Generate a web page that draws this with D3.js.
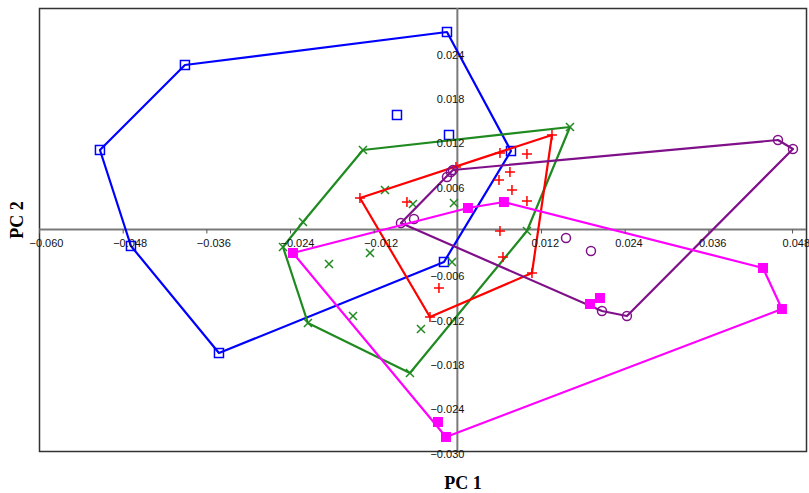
<!DOCTYPE html>
<html>
<head>
<meta charset="utf-8">
<script src="https://cdn.jsdelivr.net/npm/d3@7/dist/d3.min.js"></script>
<style>
  html, body { margin: 0; padding: 0; background: #fff; }
  svg { display: block; }
  .tick text { font-family: "Liberation Sans", Arial, sans-serif; font-size: 11px; fill: #111; }
</style>
</head>
<body>
<svg id="chart" width="809" height="493"></svg>
<script>
// PCA scores (PC 1, PC 2) for each group
const blueScores = [
  [-0.00149, 0.02675], [-0.03907, 0.02228], [-0.05126, 0.01077], [-0.04681, -0.00223],
  [-0.03419, -0.01673], [-0.00192, -0.00440], [0.00769, 0.01063], [-0.00866, 0.01551],
  [-0.00120, 0.01280]
];
const greenScores = [
  [0.01615, 0.01388], [-0.01354, 0.01077], [-0.02214, 0.00102], [-0.02501, -0.00237],
  [-0.02143, -0.01266], [-0.00680, -0.01944], [0.00998, -0.00020], [-0.01038, 0.00535],
  [-0.00637, 0.00345], [-0.00049, 0.00359], [-0.01253, -0.00318], [-0.01841, -0.00467],
  [-0.01497, -0.01172], [-0.00522, -0.01348], [-0.00077, -0.00440]
];
const redScores = [
  [-0.01397, 0.00427], [-0.00020, 0.00847], [0.01357, 0.01280], [0.01070, -0.00589],
  [-0.00393, -0.01185], [0.00611, 0.01036], [0.00998, 0.01023], [0.00754, 0.00779],
  [0.00597, 0.00670], [0.00783, 0.00535], [0.00998, 0.00386], [-0.00723, 0.00372],
  [0.00611, -0.00020], [0.00654, -0.00372], [-0.00264, -0.00792]
];
const purpleScores = [
  [-0.00063, 0.00806], [0.04598, 0.01212], [0.04813, 0.01090], [0.02432, -0.01172],
  [0.02074, -0.01104], [-0.00809, 0.00088], [-0.00149, 0.00711], [-0.00622, 0.00142],
  [0.01558, -0.00115], [0.01916, -0.00291], [-0.00092, 0.00779]
];
const magentaScores = [
  [-0.02358, -0.00318], [0.00152, 0.00291], [0.00668, 0.00372], [0.04383, -0.00521],
  [0.04655, -0.01077], [-0.00163, -0.02810], [-0.00278, -0.02607], [0.01902, -0.01009],
  [0.02045, -0.00928]
];

const xTickValues = [-0.060, -0.048, -0.036, -0.024, -0.012, 0.012, 0.024, 0.036, 0.048];
const yTickValues = [-0.030, -0.024, -0.018, -0.012, -0.006, 0.006, 0.012, 0.018, 0.024];

const svg = d3.select("#chart");
const plot = { left: 39, right: 806, top: 8, bottom: 451 };

const x = d3.scaleLinear().domain([-0.060, 0.050]).range([plot.left, plot.right]);
const y = d3.scaleLinear().domain([-0.030, 0.030]).range([plot.bottom, plot.top]);
const fmt = d3.format(".3f");

// frame
svg.append("rect")
  .attr("x", plot.left + 0.5).attr("y", plot.top + 0.5)
  .attr("width", plot.right - plot.left).attr("height", plot.bottom - plot.top)
  .attr("fill", "none").attr("stroke", "#333").attr("stroke-width", 1.5);

// axes crossing at the origin
const axisLayer = svg.append("g");
axisLayer.append("line")
  .attr("x1", plot.left).attr("x2", plot.right)
  .attr("y1", y(0)).attr("y2", y(0))
  .attr("stroke", "#7a7a7a").attr("stroke-width", 2);
axisLayer.append("line")
  .attr("x1", x(0)).attr("x2", x(0))
  .attr("y1", plot.top).attr("y2", plot.bottom)
  .attr("stroke", "#7a7a7a").attr("stroke-width", 2);

const groups = [
  { data: blueScores,    color: "#0000ff", marker: "openSquare" },
  { data: greenScores,   color: "#1f8a1f", marker: "cross" },
  { data: redScores,     color: "#ff0000", marker: "plus" },
  { data: purpleScores,  color: "#80108a", marker: "circle" },
  { data: magentaScores, color: "#ff00ff", marker: "filledSquare" }
];

const dataLayer = svg.append("g");
groups.forEach(g => {
  const pts = g.data.map(d => [x(d[0]), y(d[1])]);
  const hull = d3.polygonHull(pts);
  dataLayer.append("path")
    .attr("d", d3.line()(hull) + "Z")
    .attr("fill", "none")
    .attr("stroke", g.color)
    .attr("stroke-width", 2.2)
    .attr("stroke-linejoin", "round");

  const mg = dataLayer.append("g");
  g.data.forEach(d => {
    const cx = x(d[0]), cy = y(d[1]);
    if (g.marker === "openSquare") {
      mg.append("rect").attr("x", cx - 4.5).attr("y", cy - 4.5)
        .attr("width", 9).attr("height", 9)
        .attr("fill", "none").attr("stroke", g.color).attr("stroke-width", 1.5);
    } else if (g.marker === "filledSquare") {
      mg.append("rect").attr("x", cx - 5).attr("y", cy - 5)
        .attr("width", 10).attr("height", 10)
        .attr("fill", g.color);
    } else if (g.marker === "circle") {
      mg.append("circle").attr("cx", cx).attr("cy", cy).attr("r", 4.5)
        .attr("fill", "none").attr("stroke", g.color).attr("stroke-width", 1.5);
    } else if (g.marker === "cross") {
      const s = 4;
      mg.append("path")
        .attr("d", `M${cx - s},${cy - s}L${cx + s},${cy + s}M${cx - s},${cy + s}L${cx + s},${cy - s}`)
        .attr("stroke", g.color).attr("stroke-width", 1.5).attr("fill", "none");
    } else if (g.marker === "plus") {
      const s = 5;
      mg.append("path")
        .attr("d", `M${cx - s},${cy}L${cx + s},${cy}M${cx},${cy - s}L${cx},${cy + s}`)
        .attr("stroke", g.color).attr("stroke-width", 1.5).attr("fill", "none");
    }
  });
});

// tick labels along the crossing axes
const xAxis = d3.axisBottom(x).tickValues(xTickValues).tickFormat(fmt)
  .tickSizeInner(4).tickSizeOuter(0).tickPadding(5.5);
const gx = svg.append("g").attr("transform", `translate(0,${y(0)})`).call(xAxis);
gx.select(".domain").remove();
gx.selectAll(".tick line").attr("stroke", "#555");
gx.selectAll(".tick text").attr("text-anchor", "start").attr("dx", -10);

const yAxis = d3.axisLeft(y).tickValues(yTickValues).tickFormat(fmt)
  .tickSizeInner(0).tickSizeOuter(0).tickPadding(-7);
const gy = svg.append("g").attr("transform", `translate(${x(0)},0)`).call(yAxis);
gy.select(".domain").remove();
gy.selectAll(".tick text").attr("text-anchor", "end").attr("dy", "0.55em");

// axis titles
svg.append("text")
  .attr("x", 463).attr("y", 489)
  .attr("text-anchor", "middle")
  .attr("font-family", "'Liberation Serif', 'Times New Roman', serif")
  .attr("font-weight", "bold").attr("font-size", 18)
  .text("PC 1");
svg.append("text")
  .attr("transform", "translate(23,220) rotate(-90)")
  .attr("text-anchor", "middle")
  .attr("font-family", "'Liberation Serif', 'Times New Roman', serif")
  .attr("font-weight", "bold").attr("font-size", 18)
  .text("PC 2");
</script>
</body>
</html>
